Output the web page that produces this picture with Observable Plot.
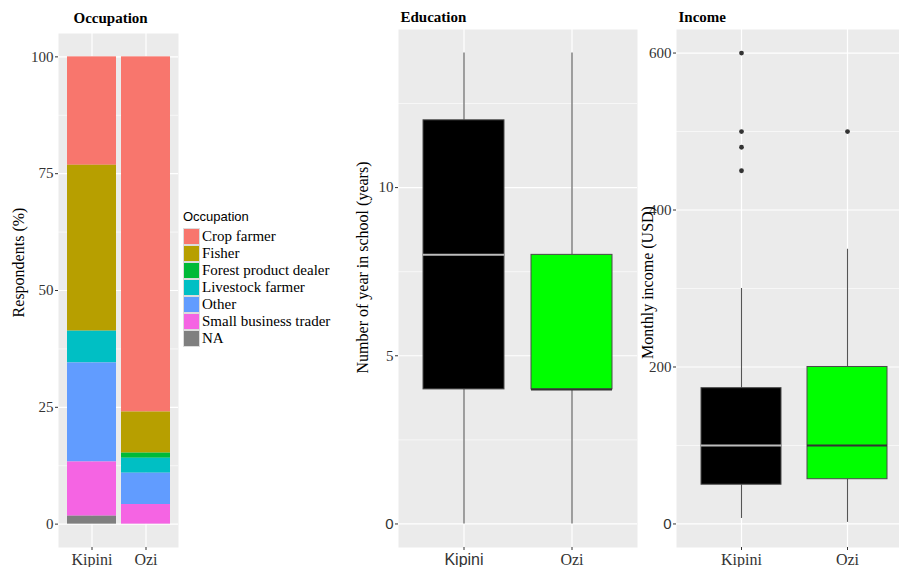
<!DOCTYPE html>
<html>
<head>
<meta charset="utf-8">
<script src="https://cdn.jsdelivr.net/npm/d3@7"></script>
<script src="https://cdn.jsdelivr.net/npm/@observablehq/plot@0.6"></script>
<style>
  html, body { margin: 0; padding: 0; background: #ffffff; overflow: hidden; }
  #page { position: relative; width: 899px; height: 567px; overflow: hidden; background: #fff; }
  #page svg { font-family: "Liberation Serif", "Times New Roman", serif !important; }
  .panel { position: absolute; top: 0; }
  #legend { position: absolute; left: 183px; top: 209px; }
  .lg-title { font-family: "Liberation Sans", Arial, sans-serif; font-size: 13px; color: #000; height: 19px; line-height: 16px; }
  .lg-row { display: flex; align-items: center; height: 17px; }
  .lg-sw { width: 17px; height: 17px; box-sizing: border-box; border: 1px solid #dcdcdc; }
  .lg-tx { font-family: "Liberation Serif", "Times New Roman", serif; font-size: 15px; color: #000; margin-left: 2px; line-height: 17px; white-space: nowrap; }
</style>
</head>
<body>
<div id="page">
  <div id="p1" class="panel" style="left:0px;width:182px;"></div>
  <div id="p2" class="panel" style="left:340px;width:299px;"></div>
  <div id="p3" class="panel" style="left:620px;width:291px;"></div>
  <div id="legend"></div>
</div>
<script>
// ---------- data ----------
const sites = ["Kipini", "Ozi"];
const occupations = ["Crop farmer", "Fisher", "Forest product dealer", "Livestock farmer", "Other", "Small business trader", "NA"];
const occColors = ["#F8766D", "#B79F00", "#00BA38", "#00BFC4", "#619CFF", "#F564E3", "#7F7F7F"];
const kipiniPct = [23.2, 35.5, 0, 6.8, 21.2, 11.6, 1.7];
const oziPct = [76.0, 8.8, 1.1, 3.2, 6.7, 4.2, 0];
const occTicks = [0, 25, 50, 75, 100];
const occMinor = [12.5, 37.5, 62.5, 87.5];

const eduLow = [0, 0];
const eduQ1 = [4, 4];
const eduMedian = [8, 4];
const eduQ3 = [12, 8];
const eduHigh = [14, 14];
const eduTicks = [0, 5, 10];
const eduMinor = [2.5, 7.5, 12.5];

const incLow = [7, 2];
const incQ1 = [50, 57];
const incMedian = [100, 100];
const incQ3 = [173, 200];
const incHigh = [300, 350];
const kipiniOutliers = [600, 500, 480, 450];
const oziOutliers = [500];
const incTicks = [0, 200, 400, 600];
const incMinor = [100, 300, 500];

const boxFills = ["#000000", "#00FF00"];
const medianColors = ["#BDBDBD", "#333333"];

// ---------- helpers ----------
const serif = "'Liberation Serif', 'Times New Roman', serif";
const sans = "'Liberation Sans', Arial, sans-serif";
const panelBg = "#EBEBEB";
const axisColor = "#333333";

const occData = [];
occupations.forEach((o, j) => {
  occData.push({site: sites[0], occ: o, pct: kipiniPct[j]});
  occData.push({site: sites[1], occ: o, pct: oziPct[j]});
});
const stackOrder = occupations.slice().reverse();

function boxRows(low, q1, med, q3, high) {
  return sites.map((s, i) => ({site: s, low: low[i], q1: q1[i], med: med[i], q3: q3[i], high: high[i], fill: boxFills[i], medColor: medianColors[i]}));
}
const eduRows = boxRows(eduLow, eduQ1, eduMedian, eduQ3, eduHigh);
const incRows = boxRows(incLow, incQ1, incMedian, incQ3, incHigh);
const incOut = [
  ...kipiniOutliers.map(v => ({site: sites[0], value: v})),
  ...oziOutliers.map(v => ({site: sites[1], value: v}))
];

function baseStyle() {
  return {fontFamily: serif, fontSize: "15px", color: axisColor, background: "transparent", overflow: "visible"};
}

function gridMarks(ticks, minor) {
  return [
    Plot.frame({fill: panelBg, stroke: "none"}),
    Plot.ruleY(minor, {y: d => d, stroke: "#ffffff", strokeWidth: 0.6}),
    Plot.ruleY(ticks, {y: d => d, stroke: "#ffffff", strokeWidth: 1.2}),
    Plot.ruleX(sites, {x: d => d, stroke: "#ffffff", strokeWidth: 1.2})
  ];
}

function titleMark(t, dx, dy) {
  return Plot.text([t], {text: d => d, frameAnchor: "top-left", dx, dy, textAnchor: "start", lineAnchor: "middle", fontWeight: "bold", fontSize: 15, fill: "#000"});
}
function yTitleMark(t, dx, dy) {
  return Plot.text([t], {text: d => d, frameAnchor: "left", rotate: -90, dx, dy, textAnchor: "middle", lineAnchor: "middle", fontSize: 16, fill: "#000"});
}

// ---------- Occupation ----------
const p1 = Plot.plot({
  width: 182, height: 567,
  marginLeft: 58, marginRight: 4, marginTop: 33, marginBottom: 20,
  style: baseStyle(),
  x: {type: "band", domain: sites, paddingInner: 0.1, paddingOuter: 0.15, label: null},
  y: {domain: [-5, 105], label: null},
  color: {domain: occupations, range: occColors},
  marks: [
    ...gridMarks(occTicks, occMinor),
    Plot.barY(occData, {x: "site", y: "pct", fill: "occ", order: stackOrder}),
    Plot.axisY(occTicks, {tickSize: 3, tickPadding: 2, label: null, fontSize: 15, color: axisColor}),
    Plot.axisX({tickSize: 3, tickPadding: 3, label: null, fontSize: 16, color: axisColor}),
    titleMark("Occupation", 15, -15),
    yTitleMark("Respondents (%)", -40, -28)
  ]
});
document.getElementById("p1").appendChild(p1);

// ---------- Education ----------
function boxMarks(rows) {
  return [
    Plot.ruleX(rows, {x: "site", y1: "low", y2: "q1", stroke: "#555555", strokeWidth: 1.1}),
    Plot.ruleX(rows, {x: "site", y1: "q3", y2: "high", stroke: "#555555", strokeWidth: 1.1}),
    Plot.barY(rows, {x: "site", y1: "q1", y2: "q3", fill: "fill", stroke: "#4a4a4a", strokeWidth: 1}),
    Plot.tickY(rows, {x: "site", y: "med", stroke: "medColor", strokeWidth: 2})
  ];
}

const p2 = Plot.plot({
  width: 299, height: 567,
  marginLeft: 58, marginRight: 2, marginTop: 29, marginBottom: 20,
  style: baseStyle(),
  x: {type: "band", domain: sites, paddingInner: 0.25, paddingOuter: 0.225, label: null},
  y: {domain: [-0.7, 14.7], label: null},
  color: {type: "identity"},
  marks: [
    ...gridMarks(eduTicks, eduMinor),
    ...boxMarks(eduRows),
    Plot.axisY(eduTicks, {tickSize: 3, tickPadding: 2, label: null, fontSize: 15, color: axisColor}),
    Plot.axisX({tickSize: 3, tickPadding: 3, label: null, fontSize: 16, color: axisColor}),
    titleMark("Education", 2, -12),
    yTitleMark("Number of year in school (years)", -36, -21)
  ]
});
document.getElementById("p2").appendChild(p2);

// ---------- Income ----------
const p3 = Plot.plot({
  width: 291, height: 567,
  marginLeft: 56, marginRight: 0, marginTop: 29, marginBottom: 20,
  style: baseStyle(),
  x: {type: "band", domain: sites, paddingInner: 0.25, paddingOuter: 0.225, label: null},
  y: {domain: [-30, 630], label: null},
  color: {type: "identity"},
  marks: [
    ...gridMarks(incTicks, incMinor),
    ...boxMarks(incRows),
    Plot.dot(incOut, {x: "site", y: "value", r: 2.4, fill: "#333333", stroke: "none"}),
    Plot.axisY(incTicks, {tickSize: 3, tickPadding: 2, label: null, fontSize: 15, color: axisColor}),
    Plot.axisX({tickSize: 3, tickPadding: 3, label: null, fontSize: 16, color: axisColor}),
    titleMark("Income", 2, -12),
    yTitleMark("Monthly income (USD)", -29, -6)
  ]
});
document.getElementById("p3").appendChild(p3);

// a few tick labels in the reference are set in a sans face
d3.select(p2).selectAll("text").filter(function() { return this.textContent === "0" || this.textContent === "Kipini"; }).attr("font-family", sans);
d3.select(p3).selectAll("text").filter(function() { return this.textContent === "0"; }).attr("font-family", sans);

// ---------- legend ----------
const lg = d3.select("#legend");
lg.append("div").attr("class", "lg-title").text("Occupation");
occupations.forEach((o, j) => {
  const row = lg.append("div").attr("class", "lg-row");
  row.append("div").attr("class", "lg-sw").style("background", occColors[j]);
  row.append("div").attr("class", "lg-tx").text(o);
});
</script>
</body>
</html>
